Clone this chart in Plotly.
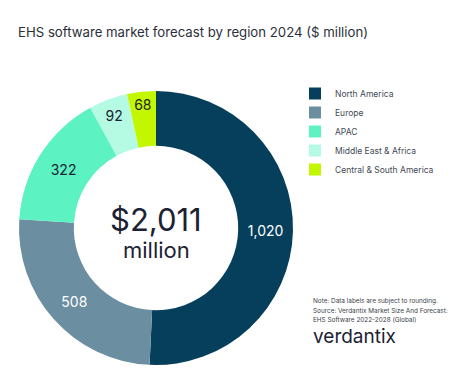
import plotly.graph_objects as go

regions = ["North America", "Europe", "APAC", "Middle East & Africa", "Central & South America"]
values = [1020, 508, 322, 92, 68]
colors = ["#063f5c", "#6b8fa1", "#5cf2c2", "#b5fae3", "#c3f700"]
label_colors = ["#ffffff", "#ffffff", "#1c2233", "#1c2233", "#1c2233"]
title = "EHS software market forecast by region 2024 ($ million)"
center_big = "$2,011"
center_small = "million"
note_lines = ["Note: Data labels are subject to rounding.",
              "Source: Verdantix Market Size And Forecast:",
              "EHS Software 2022-2028 (Global)"]
brand = "verdantix"

W, H = 474, 388
FONT = "Inter, Lato, sans-serif"

fig = go.Figure(go.Pie(
    labels=regions,
    values=values,
    hole=0.60,
    sort=False,
    direction="clockwise",
    rotation=0,
    marker=dict(colors=colors, line=dict(width=0)),
    texttemplate="%{value:,}",
    textposition="inside",
    insidetextorientation="horizontal",
    textfont=dict(family=FONT, size=14, color=label_colors),
    hoverinfo="label+value",
    domain=dict(x=[19 / W, 293 / W], y=[1 - 365 / H, 1 - 91 / H]),
))

annotations = [
    dict(text=center_big, x=156 / W, y=1 - 219 / H, xref="paper", yref="paper",
         xanchor="center", yanchor="middle",
         showarrow=False, font=dict(family=FONT, size=31, color="#1c2233")),
    dict(text=center_small, x=156 / W, y=1 - 250 / H, xref="paper", yref="paper",
         xanchor="center", yanchor="middle",
         showarrow=False, font=dict(family=FONT, size=22, color="#1c2233")),
    dict(text=brand, x=311 / W, y=1 - 336 / H, xref="paper", yref="paper",
         xanchor="left", yanchor="middle", showarrow=False,
         font=dict(family=FONT, size=19, color="#1c2233")),
]
for i, line in enumerate(note_lines):
    annotations.append(dict(text=line, x=311 / W, y=1 - (301 + 9.5 * i) / H,
                            xref="paper", yref="paper", xanchor="left", yanchor="middle",
                            showarrow=False,
                            font=dict(family=FONT, size=6.4, color="#3a3f4a")))

fig.update_layout(
    width=W, height=H,
    margin=dict(l=0, r=0, t=0, b=0),
    paper_bgcolor="white",
    plot_bgcolor="white",
    title=dict(text=title, x=18 / W, xanchor="left", y=1 - 32 / H, yanchor="middle",
               font=dict(family=FONT, size=13.2, color="#2b2f3a")),
    legend=dict(x=295 / W, y=1 - 79 / H, xanchor="left", yanchor="top",
                font=dict(family=FONT, size=8.5, color="#444a55"),
                itemwidth=30, tracegroupgap=0, bgcolor="rgba(0,0,0,0)"),
    annotations=annotations,
    showlegend=True,
)

fig.write_html("out.html", config={"displayModeBar": False},
               post_script="document.body.style.margin='0';")
